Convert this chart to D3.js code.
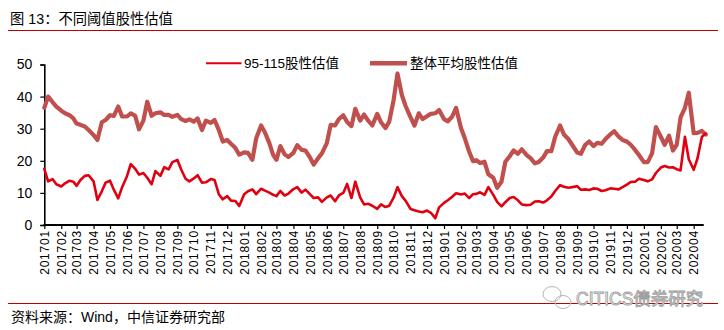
<!DOCTYPE html>
<html>
<head>
<meta charset="utf-8">
<script src="https://cdn.jsdelivr.net/npm/d3@7"></script>
<style>
  html, body { margin: 0; padding: 0; background: #fff; }
  svg { display: block; }
  text { font-family: "Liberation Sans", Arial, "Noto Sans CJK SC", sans-serif; fill: #000; }
</style>
</head>
<body>
<svg id="chart" width="724" height="330"></svg>
<script>
// ---- data ----
const months = ["201701","201702","201703","201704","201705","201706","201707","201708","201709","201710",
  "201711","201712","201801","201802","201803","201804","201805","201806","201807","201808",
  "201809","201810","201811","201812","201901","201902","201903","201904","201905","201906",
  "201907","201908","201909","201910","201911","201912","202001","202002","202003","202004"];
const sampleDays = [1, 8, 16, 23];
const seriesNames = ["95-115股性估值", "整体平均股性估值"];
const yTicks = [0, 10, 20, 30, 40, 50];

const band95Values = [
  17.5,13.6,14.3,12.7, 12.0,13.0,13.8,13.5, 12.2,14.0,15.3,15.5, 13.6,7.8,10.5,13.2,
  13.8,11.0,8.3,11.7, 15.2,19.0,17.5,15.7, 16.2,14.7,12.7,16.8, 15.3,18.0,17.3,19.6,
  20.3,17.3,14.4,13.6, 14.5,15.5,13.2,13.3, 14.3,14.0,9.5,8.0, 9.0,7.6,7.5,5.9,
  9.6,10.5,11.1,9.6, 11.3,10.7,10.1,9.4, 9.0,10.6,9.2,9.8, 11.2,11.8,10.1,11.0,
  9.6,8.4,8.6,7.2, 8.6,9.2,7.4,9.2, 10.0,12.8,8.4,13.5, 8.5,6.4,6.6,6.0,
  5.0,6.4,5.6,6.0, 8.5,11.8,9.0,7.5, 5.0,4.6,4.2,4.0, 4.5,3.8,2.1,5.5,
  6.9,7.7,8.8,9.9, 9.5,9.8,8.4,9.6, 9.7,10.2,9.4,11.8, 9.4,7.2,5.8,7.1,
  8.4,8.7,7.7,6.4, 6.2,6.3,7.3,7.4, 7.0,7.7,8.9,10.6, 12.4,11.9,11.6,11.8,
  12.1,11.0,11.1,10.9, 11.4,11.3,10.6,10.8, 11.4,11.3,11.1,11.8, 12.6,13.4,13.5,14.4,
  14.0,13.6,14.2,16.2, 17.9,18.4,17.9,18.0, 17.4,17.0,27.5,20.5, 17.2,20.8,27.5,28.5
];
const avgValues = [
  36.5,40.0,38.3,36.9, 35.6,34.8,34.2,33.2, 31.6,31.2,30.7,29.6, 28.0,26.5,32.0,32.7,
  34.2,34.0,36.9,33.8, 33.8,34.8,34.0,29.8, 32.5,38.4,34.0,34.8, 35.1,34.3,34.3,33.7,
  34.3,33.0,32.4,32.9, 32.2,33.2,29.6,32.5, 31.8,32.7,29.5,26.0, 26.5,25.3,24.0,21.9,
  22.6,22.5,20.3,27.0, 31.0,28.8,25.5,21.8, 20.3,24.6,22.0,21.2, 22.5,24.9,23.4,23.2,
  21.1,18.8,20.8,22.3, 25.5,31.2,31.0,33.0, 34.2,32.1,30.8,36.2, 32.5,34.4,32.4,31.0,
  34.6,32.0,30.2,32.2, 39.0,47.2,40.5,37.0, 33.5,31.0,34.8,33.0, 33.9,34.6,34.8,35.8,
  33.0,32.3,33.8,36.5, 30.2,27.0,22.8,19.9, 20.2,19.3,19.7,15.8, 14.7,11.6,13.5,19.7,
  21.4,23.2,22.2,23.6, 21.8,20.8,19.2,19.6, 21.0,23.0,23.0,27.5, 31.0,28.2,26.8,25.0,
  22.6,22.2,25.0,26.0, 24.6,25.6,25.3,26.8, 28.3,29.2,27.5,26.5, 26.0,25.0,23.4,21.8,
  19.6,19.6,22.3,30.5, 27.5,25.0,27.8,23.2, 25.0,33.5,36.5,41.2, 28.6,28.7,29.3,28.2
];

// ---- build ----
const parseMonth = s => new Date(+s.slice(0,4), +s.slice(4,6) - 1, 1);
const monthDates = months.map(parseMonth);
const dates = [];
months.forEach(m => sampleDays.forEach(d => {
  const md = parseMonth(m); dates.push(new Date(md.getFullYear(), md.getMonth(), d));
}));
const rows = dates.map((d, i) => ({ date: d, band: band95Values[i], avg: avgValues[i] }));

const svg = d3.select("#chart");
const RED = "#E1000F", AVG = "#C0504D", RULE = "#C00000";

const x = d3.scaleTime()
  .domain([monthDates[0], monthDates[monthDates.length - 1]])
  .range([44.3, 693.7]);
const y = d3.scaleLinear().domain([0, 50]).range([225, 64.5]);

// title + rules
svg.append("text").attr("x", 10).attr("y", 24).attr("font-size", 14.3).text("图 13：不同阈值股性估值");
svg.append("line").attr("x1", 8).attr("x2", 718).attr("y1", 30.5).attr("y2", 30.5)
  .attr("stroke", RULE).attr("stroke-width", 1);
svg.append("line").attr("x1", 8).attr("x2", 718).attr("y1", 303.5).attr("y2", 303.5)
  .attr("stroke", RULE).attr("stroke-width", 1);
svg.append("text").attr("x", 11).attr("y", 322).attr("font-size", 14).text("资料来源：Wind，中信证券研究部");

// watermark
const wm = svg.append("g").attr("fill", "none").attr("stroke", "#b5b5b5").attr("stroke-width", 1);
wm.append("ellipse").attr("cx", 552).attr("cy", 294).attr("rx", 9).attr("ry", 7.5);
wm.append("ellipse").attr("cx", 563).attr("cy", 302).attr("rx", 8).attr("ry", 6.5);
svg.append("text").attr("x", 576).attr("y", 305).attr("font-size", 17.5)
  .style("fill", "#fff").attr("stroke", "#a0a0a0").attr("stroke-width", 0.9)
  .text("CITICS债券研究");

// y axis
const yAxis = svg.append("g").attr("transform", "translate(44.3,0)")
  .call(d3.axisLeft(y).tickValues(yTicks).tickSize(4).tickPadding(8));
yAxis.select(".domain").attr("stroke", "#000").attr("stroke-width", 1.6);
yAxis.selectAll(".tick line").attr("stroke", "#000").attr("stroke-width", 1.2);
yAxis.selectAll(".tick text").attr("font-size", 14).attr("font-family", "Liberation Sans, Arial, sans-serif").style("fill", "#000");

// x axis
const xAxis = svg.append("g").attr("transform", "translate(0,225)")
  .call(d3.axisBottom(x).tickValues(monthDates).tickSize(4).tickFormat((d, i) => months[i]));
xAxis.select(".domain").remove();
xAxis.selectAll(".tick line").attr("stroke", "#000").attr("stroke-width", 1.2);
xAxis.selectAll(".tick text")
  .attr("font-size", 12).attr("font-family", "Liberation Sans, Arial, sans-serif")
  .attr("letter-spacing", "0.8px").style("fill", "#000")
  .attr("text-anchor", "end").attr("y", 0).attr("dy", "0.35em")
  .attr("transform", "translate(0,5) rotate(-90)");
svg.append("line")
  .attr("x1", 43.5).attr("x2", x(dates[dates.length - 1]) - 2)
  .attr("y1", 225).attr("y2", 225).attr("stroke", "#000").attr("stroke-width", 2);

// lines
const lineAvg = d3.line().x(d => x(d.date)).y(d => y(d.avg));
const lineBand = d3.line().x(d => x(d.date)).y(d => y(d.band));
svg.append("path").datum(rows).attr("d", lineAvg).attr("fill", "none")
  .attr("stroke", AVG).attr("stroke-width", 4.2).attr("stroke-linejoin", "round").attr("stroke-linecap", "round");
svg.append("path").datum(rows).attr("d", lineBand).attr("fill", "none")
  .attr("stroke", RED).attr("stroke-width", 2.6).attr("stroke-linejoin", "round").attr("stroke-linecap", "round");

// legend
const legend = [
  { name: seriesNames[0], color: RED, w: 2, x1: 206, x2: 241.5, tx: 244 },
  { name: seriesNames[1], color: AVG, w: 4.5, x1: 370, x2: 407, tx: 410 }
];
legend.forEach(l => {
  svg.append("line").attr("x1", l.x1).attr("x2", l.x2).attr("y1", 63.3).attr("y2", 63.3)
    .attr("stroke", l.color).attr("stroke-width", l.w);
  svg.append("text").attr("x", l.tx).attr("y", 68).attr("font-size", 13.5).text(l.name);
});
</script>
</body>
</html>
